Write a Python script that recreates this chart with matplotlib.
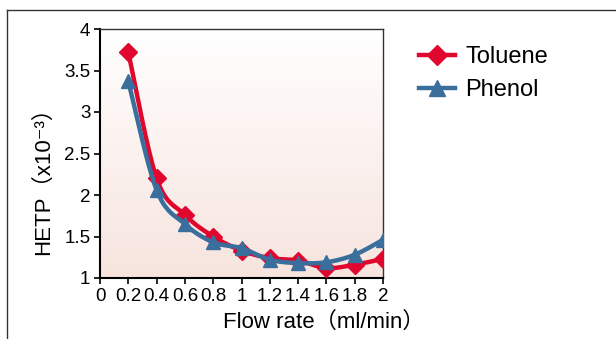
import numpy as np
import matplotlib
matplotlib.use("Agg")
import matplotlib.pyplot as plt
from matplotlib.lines import Line2D

flow = [0.2, 0.4, 0.6, 0.8, 1.0, 1.2, 1.4, 1.6, 1.8, 2.0]
toluene = [3.72, 2.20, 1.76, 1.50, 1.33, 1.24, 1.21, 1.12, 1.16, 1.23]
phenol = [3.37, 2.06, 1.65, 1.43, 1.36, 1.22, 1.18, 1.19, 1.28, 1.46]
xticks = [0, 0.2, 0.4, 0.6, 0.8, 1.0, 1.2, 1.4, 1.6, 1.8, 2.0]
xticklabels = ["0", "0.2", "0.4", "0.6", "0.8", "1", "1.2", "1.4", "1.6", "1.8", "2"]
yticks = [1, 1.5, 2, 2.5, 3, 3.5, 4]
yticklabels = ["1", "1.5", "2", "2.5", "3", "3.5", "4"]

FAM = ["Liberation Sans", "DejaVu Sans", "Noto Sans CJK JP"]
plt.rcParams["font.family"] = FAM

RED = "#e0062d"
BLUE = "#3a6e9c"


def smooth(x, y, n=20):
    # Catmull-Rom spline (Excel-style smoothed line) through the points
    x = np.asarray(x, float)
    y = np.asarray(y, float)
    px = np.concatenate([[x[0]], x, [x[-1]]])
    py = np.concatenate([[y[0]], y, [y[-1]]])
    xs, ys = [], []
    for i in range(1, len(px) - 2):
        t = np.linspace(0, 1, n, endpoint=False)
        for P, out in ((px, xs), (py, ys)):
            p0, p1, p2, p3 = P[i - 1], P[i], P[i + 1], P[i + 2]
            c1 = p1 + (p2 - p0) / 6
            c2 = p2 - (p3 - p1) / 6
            out.extend((1 - t) ** 3 * p1 + 3 * (1 - t) ** 2 * t * c1
                       + 3 * (1 - t) * t ** 2 * c2 + t ** 3 * p2)
    xs.append(x[-1])
    ys.append(y[-1])
    return np.array(xs), np.array(ys)


fig = plt.figure(figsize=(6.16, 3.39), dpi=100)
ax = fig.add_axes([100 / 616, 1 - 278 / 339, 283 / 616, 249 / 339])

# gradient background
grad = np.linspace(0, 1, 256).reshape(-1, 1)
top = np.array([1.0, 1.0, 1.0])
bot = np.array([247, 228, 222]) / 255
img = top[None, None, :] * (1 - grad[:, :, None]) + bot[None, None, :] * grad[:, :, None]
ax.imshow(img, extent=[0, 1, 0, 1], transform=ax.transAxes, aspect="auto",
          zorder=0, origin="upper")

tx, ty = smooth(flow, toluene)
ax.plot(tx, ty, color=RED, lw=3.2, zorder=2, solid_capstyle="round")
ax.plot(flow, toluene, linestyle="none", marker="D", ms=9, color=RED, zorder=3)
px_, py_ = smooth(flow, phenol)
ax.plot(px_, py_, color=BLUE, lw=3.2, zorder=4, solid_capstyle="round")
ax.plot(flow, phenol, linestyle="none", marker="^", ms=10, color=BLUE, zorder=5)

ax.set_xlim(0, 2)
ax.set_ylim(1, 4)
ax.set_xticks(xticks)
ax.set_xticklabels(xticklabels)
ax.set_yticks(yticks)
ax.set_yticklabels(yticklabels)
ax.tick_params(axis="both", direction="out", length=4, width=1.2, labelsize=13.5,
               pad=3, colors="black")
for s in ["left", "bottom"]:
    ax.spines[s].set_linewidth(1.5)
    ax.spines[s].set_color("black")
for s in ["top", "right"]:
    ax.spines[s].set_linewidth(1.0)
    ax.spines[s].set_color("#333333")

fig.text(43 / 616, 1 - 175 / 339, "HETP（x10⁻³）", rotation=90, ha="center",
         va="center", fontsize=16, family=FAM)
fig.text(324 / 616, 1 - 322 / 339, "Flow rate（ml/min）", ha="center",
         va="center", fontsize=16, family=FAM)

handles = [
    Line2D([], [], color=RED, lw=3.2, marker="D", ms=10),
    Line2D([], [], color=BLUE, lw=3.2, marker="^", ms=11),
]
fig.legend(handles, ["Toluene", "Phenol"], loc="upper left",
           bbox_to_anchor=(398 / 616, 1 - 25 / 339), frameon=False,
           fontsize=17, handlelength=1.5, handletextpad=0.45, labelspacing=0.45)

# outer frame
fig.add_artist(Line2D([6.5 / 616, 1], [1 - 10 / 339, 1 - 10 / 339],
                      transform=fig.transFigure, color="#333333", lw=1))
fig.add_artist(Line2D([6.5 / 616, 6.5 / 616], [0, 1 - 10 / 339],
                      transform=fig.transFigure, color="#333333", lw=1))

fig.savefig("out.png", dpi=100)
